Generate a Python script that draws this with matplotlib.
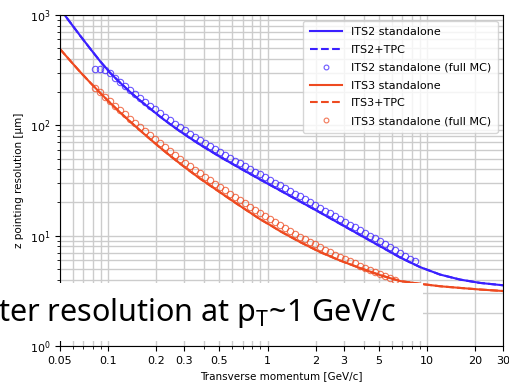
import numpy as np
import matplotlib
matplotlib.use('Agg')
import matplotlib.pyplot as plt
from matplotlib.patches import Rectangle
from matplotlib.ticker import FixedLocator, NullFormatter

# ── 解析曲线 ──
its2_pt = [0.05, 0.0578, 0.0667, 0.0771, 0.0891, 0.1029, 0.1189, 0.1374, 0.1587, 0.1834,
           0.2119, 0.2448, 0.2828, 0.3267, 0.3775, 0.5039, 0.6726, 0.8978, 1.198, 1.600,
           2.135, 2.850, 3.804, 5.078, 6.778, 9.047, 12.08, 16.12, 21.52, 30.0]
its2_res = [1138, 860, 653, 498, 382, 300, 244, 201, 168, 142,
            120, 102.5, 88.2, 76.6, 66.8, 51.8, 40.8, 32.3, 25.7, 20.4,
            16.2, 12.8, 10.13, 8.02, 6.34, 5.19, 4.44, 4.00, 3.73, 3.55]

its3_pt = [0.05, 0.0578, 0.0667, 0.0771, 0.0891, 0.1029, 0.1189, 0.1374, 0.1587, 0.1834,
           0.2119, 0.2448, 0.2828, 0.3267, 0.3775, 0.4361, 0.5039, 0.5821, 0.6726, 0.7770,
           0.8978, 1.037, 1.198, 1.384, 1.600, 2.135, 2.850, 3.804, 5.078, 6.778,
           9.047, 12.08, 16.12, 21.52, 30.0]
its3_res = [491.7, 386.8, 306.2, 244.9, 197.6, 160.3, 131.2, 108.3, 90.1, 75.1,
            62.9, 53.0, 45.0, 38.4, 32.9, 28.5, 24.7, 21.4, 18.6, 16.2,
            14.1, 12.5, 11.0, 9.81, 8.75, 7.10, 5.95, 5.09, 4.39, 3.88,
            3.66, 3.48, 3.36, 3.25, 3.15]

# ── full MC 点 ──
mc_pt = [0.0829, 0.0891, 0.0957, 0.1029, 0.1106, 0.1189, 0.1278, 0.1374, 0.1477, 0.1587,
         0.1706, 0.1834, 0.1971, 0.2119, 0.2277, 0.2448, 0.2630, 0.2827, 0.3039, 0.3266,
         0.3511, 0.3773, 0.4056, 0.4359, 0.4685, 0.5036, 0.5413, 0.5818, 0.6253, 0.6721,
         0.7224, 0.7765, 0.8346, 0.8971, 0.9645, 1.0366, 1.1143, 1.1977, 1.2874, 1.3836,
         1.4872, 1.5985, 1.7182, 1.8468, 1.9852, 2.1336, 2.2935, 2.4652, 2.6499, 2.8479,
         3.0613, 3.2900, 3.5367, 3.8010, 4.0858, 4.3913, 4.7206, 5.0734, 5.4538, 5.8614,
         6.3007, 6.7715, 7.2794, 7.8234, 8.4099]
its2_mc = [327.3, 327.3, 317.2, 296.1, 270.6, 246.4, 226.2, 207.7, 191.8, 177.2,
           164.4, 150.9, 139.7, 129.3, 119.9, 111.5, 103.4, 96.3, 89.9, 83.9,
           78.5, 73.4, 69.0, 64.8, 61.0, 57.4, 54.1, 50.9, 48.0, 45.2,
           42.7, 40.3, 37.97, 35.9, 33.8, 32.0, 30.2, 28.5, 26.9, 25.4,
           24.0, 22.7, 21.4, 20.2, 19.0, 17.9, 16.9, 15.96, 15.06, 14.2,
           13.4, 12.6, 11.9, 11.24, 10.6, 10.0, 9.43, 8.90, 8.39, 7.91,
           7.43, 6.97, 6.56, 6.17, 5.85]
its3_mc = [219.7, 199.6, 181.7, 165.4, 150.6, 137.3, 125.6, 114.8, 105.6, 96.9,
           88.6, 81.3, 74.5, 68.5, 63.0, 58.1, 53.6, 49.6, 45.9, 42.6,
           39.5, 36.7, 34.1, 31.8, 29.7, 27.7, 25.8, 24.1, 22.5, 20.9,
           19.6, 18.3, 17.1, 16.0, 15.0, 14.06, 13.2, 12.4, 11.65, 10.99,
           10.36, 9.77, 9.26, 8.77, 8.32, 7.88, 7.47, 7.07, 6.74, 6.43,
           6.14, 5.89, 5.61, 5.33, 5.11, 4.90, 4.68, 4.49, 4.30, 4.14,
           3.98]

x_major = [0.05, 0.1, 0.2, 0.3, 0.5, 1, 2, 3, 5, 10, 20, 30]
x_major_labels = ['0.05', '0.1', '0.2', '0.3', '0.5', '1', '2', '3', '5', '10', '20', '30']
x_minor = [0.06, 0.07, 0.08, 0.09, 0.4, 0.6, 0.7, 0.8, 0.9, 4, 6, 7, 8, 9]

C_ITS2 = '#3a20ff'
C_ITS3 = '#ee4a20'

fig = plt.figure(figsize=(5.09, 3.84), dpi=100)
ax = fig.add_axes([60 / 509, 1 - 346 / 384, 443.1 / 509, 331 / 384])
ax.set_xscale('log')
ax.set_yscale('log')

ax.plot(its2_pt, its2_res, color=C_ITS2, lw=1.5, label='ITS2 standalone')
ax.plot(its2_pt, its2_res, color=C_ITS2, lw=1.5, ls='--', label='ITS2+TPC')
ax.plot(mc_pt, its2_mc, ls='none', marker='o', ms=4.6, mfc='none', mec=C_ITS2,
        mew=0.8, alpha=0.75, label='ITS2 standalone (full MC)')
ax.plot(its3_pt, its3_res, color=C_ITS3, lw=1.5, label='ITS3 standalone')
ax.plot(its3_pt, its3_res, color=C_ITS3, lw=1.5, ls='--', label='ITS3+TPC')
ax.plot(mc_pt[:len(its3_mc)], its3_mc, ls='none', marker='o', ms=4.6, mfc='none',
        mec=C_ITS3, mew=0.8, alpha=0.75, label='ITS3 standalone (full MC)')

ax.set_xlim(0.05, 30)
ax.set_ylim(1, 1000)
ax.xaxis.set_major_locator(FixedLocator(x_major))
ax.set_xticklabels(x_major_labels)
ax.xaxis.set_minor_locator(FixedLocator(x_minor))
ax.xaxis.set_minor_formatter(NullFormatter())
ax.tick_params(labelsize=8)
ax.grid(True, which='both', color='#cccccc', lw=1)
ax.set_axisbelow(True)

ax.set_xlabel('Transverse momentum [GeV/c]', fontsize=7.5)
ax.set_ylabel('z pointing resolution [µm]', fontsize=7.5)

ax.legend(loc='upper right', fontsize=8, markerscale=0.75, handlelength=2.9,
          handletextpad=0.8, labelspacing=0.7, borderpad=0.6)

# 覆盖的白色文字框
fig.patches.append(Rectangle((-0.01, 1 - 341 / 384), 423 / 509 + 0.01, 58 / 384,
                             transform=fig.transFigure, facecolor='white',
                             edgecolor='none', zorder=10))
fig.text(-0.004, 1 - 313 / 384, 'ter resolution at p$_\\mathregular{T}$~1 GeV/c',
         fontsize=22, family=['Noto Sans', 'DejaVu Sans'],
         va='center', ha='left', zorder=11)

plt.savefig('out.png', dpi=100, facecolor='white')
